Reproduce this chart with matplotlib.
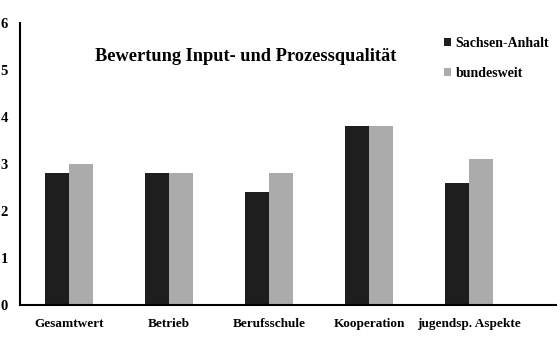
import matplotlib.pyplot as plt
import numpy as np

categories = ['Gesamtwert', 'Betrieb', 'Berufsschule', 'Kooperation', 'jugendsp. Aspekte']
sachsen_anhalt = [2.8, 2.8, 2.4, 3.8, 2.6]
bundesweit = [3.0, 2.8, 2.8, 3.8, 3.1]
series_names = ['Sachsen-Anhalt', 'bundesweit']

plt.rcParams['font.family'] = ['Liberation Serif', 'DejaVu Serif']
plt.rcParams['font.weight'] = 'bold'

fig = plt.figure(figsize=(5.6, 3.59), dpi=100)
ax = fig.add_axes([0.036, 0.150, 0.957, 0.786])

x = np.arange(len(categories))
w = 0.24
ax.bar(x - w / 2, sachsen_anhalt, width=w, color='#1e1e1e', label=series_names[0])
ax.bar(x + w / 2, bundesweit, width=w, color='#ababab', label=series_names[1])

ax.set_ylim(0, 6)
ax.set_xlim(-0.49, 4.87)
ax.set_yticks(range(0, 7))
ax.set_xticks(x)
ax.set_xticklabels(categories)
ax.tick_params(length=0, labelsize=9.5)
ax.tick_params(axis='y', labelsize=10.5, pad=9)
ax.tick_params(axis='x', pad=9)
for lab in ax.get_xticklabels() + ax.get_yticklabels():
    lab.set_fontweight('bold')

for s in ['top', 'right']:
    ax.spines[s].set_visible(False)
ax.spines['left'].set_linewidth(1.5)
ax.spines['bottom'].set_linewidth(1.5)

ax.text(0.14, 0.88, 'Bewertung Input- und Prozessqualität', transform=ax.transAxes,
        fontsize=13.2, fontweight='bold', va='center', ha='left')

leg = ax.legend(loc='upper left', bbox_to_anchor=(0.768, 0.995), frameon=False,
                handlelength=0.5, handleheight=0.5, handletextpad=0.3,
                labelspacing=1.2, prop={'weight': 'bold', 'size': 10})

fig.savefig('out.png', dpi=100)
